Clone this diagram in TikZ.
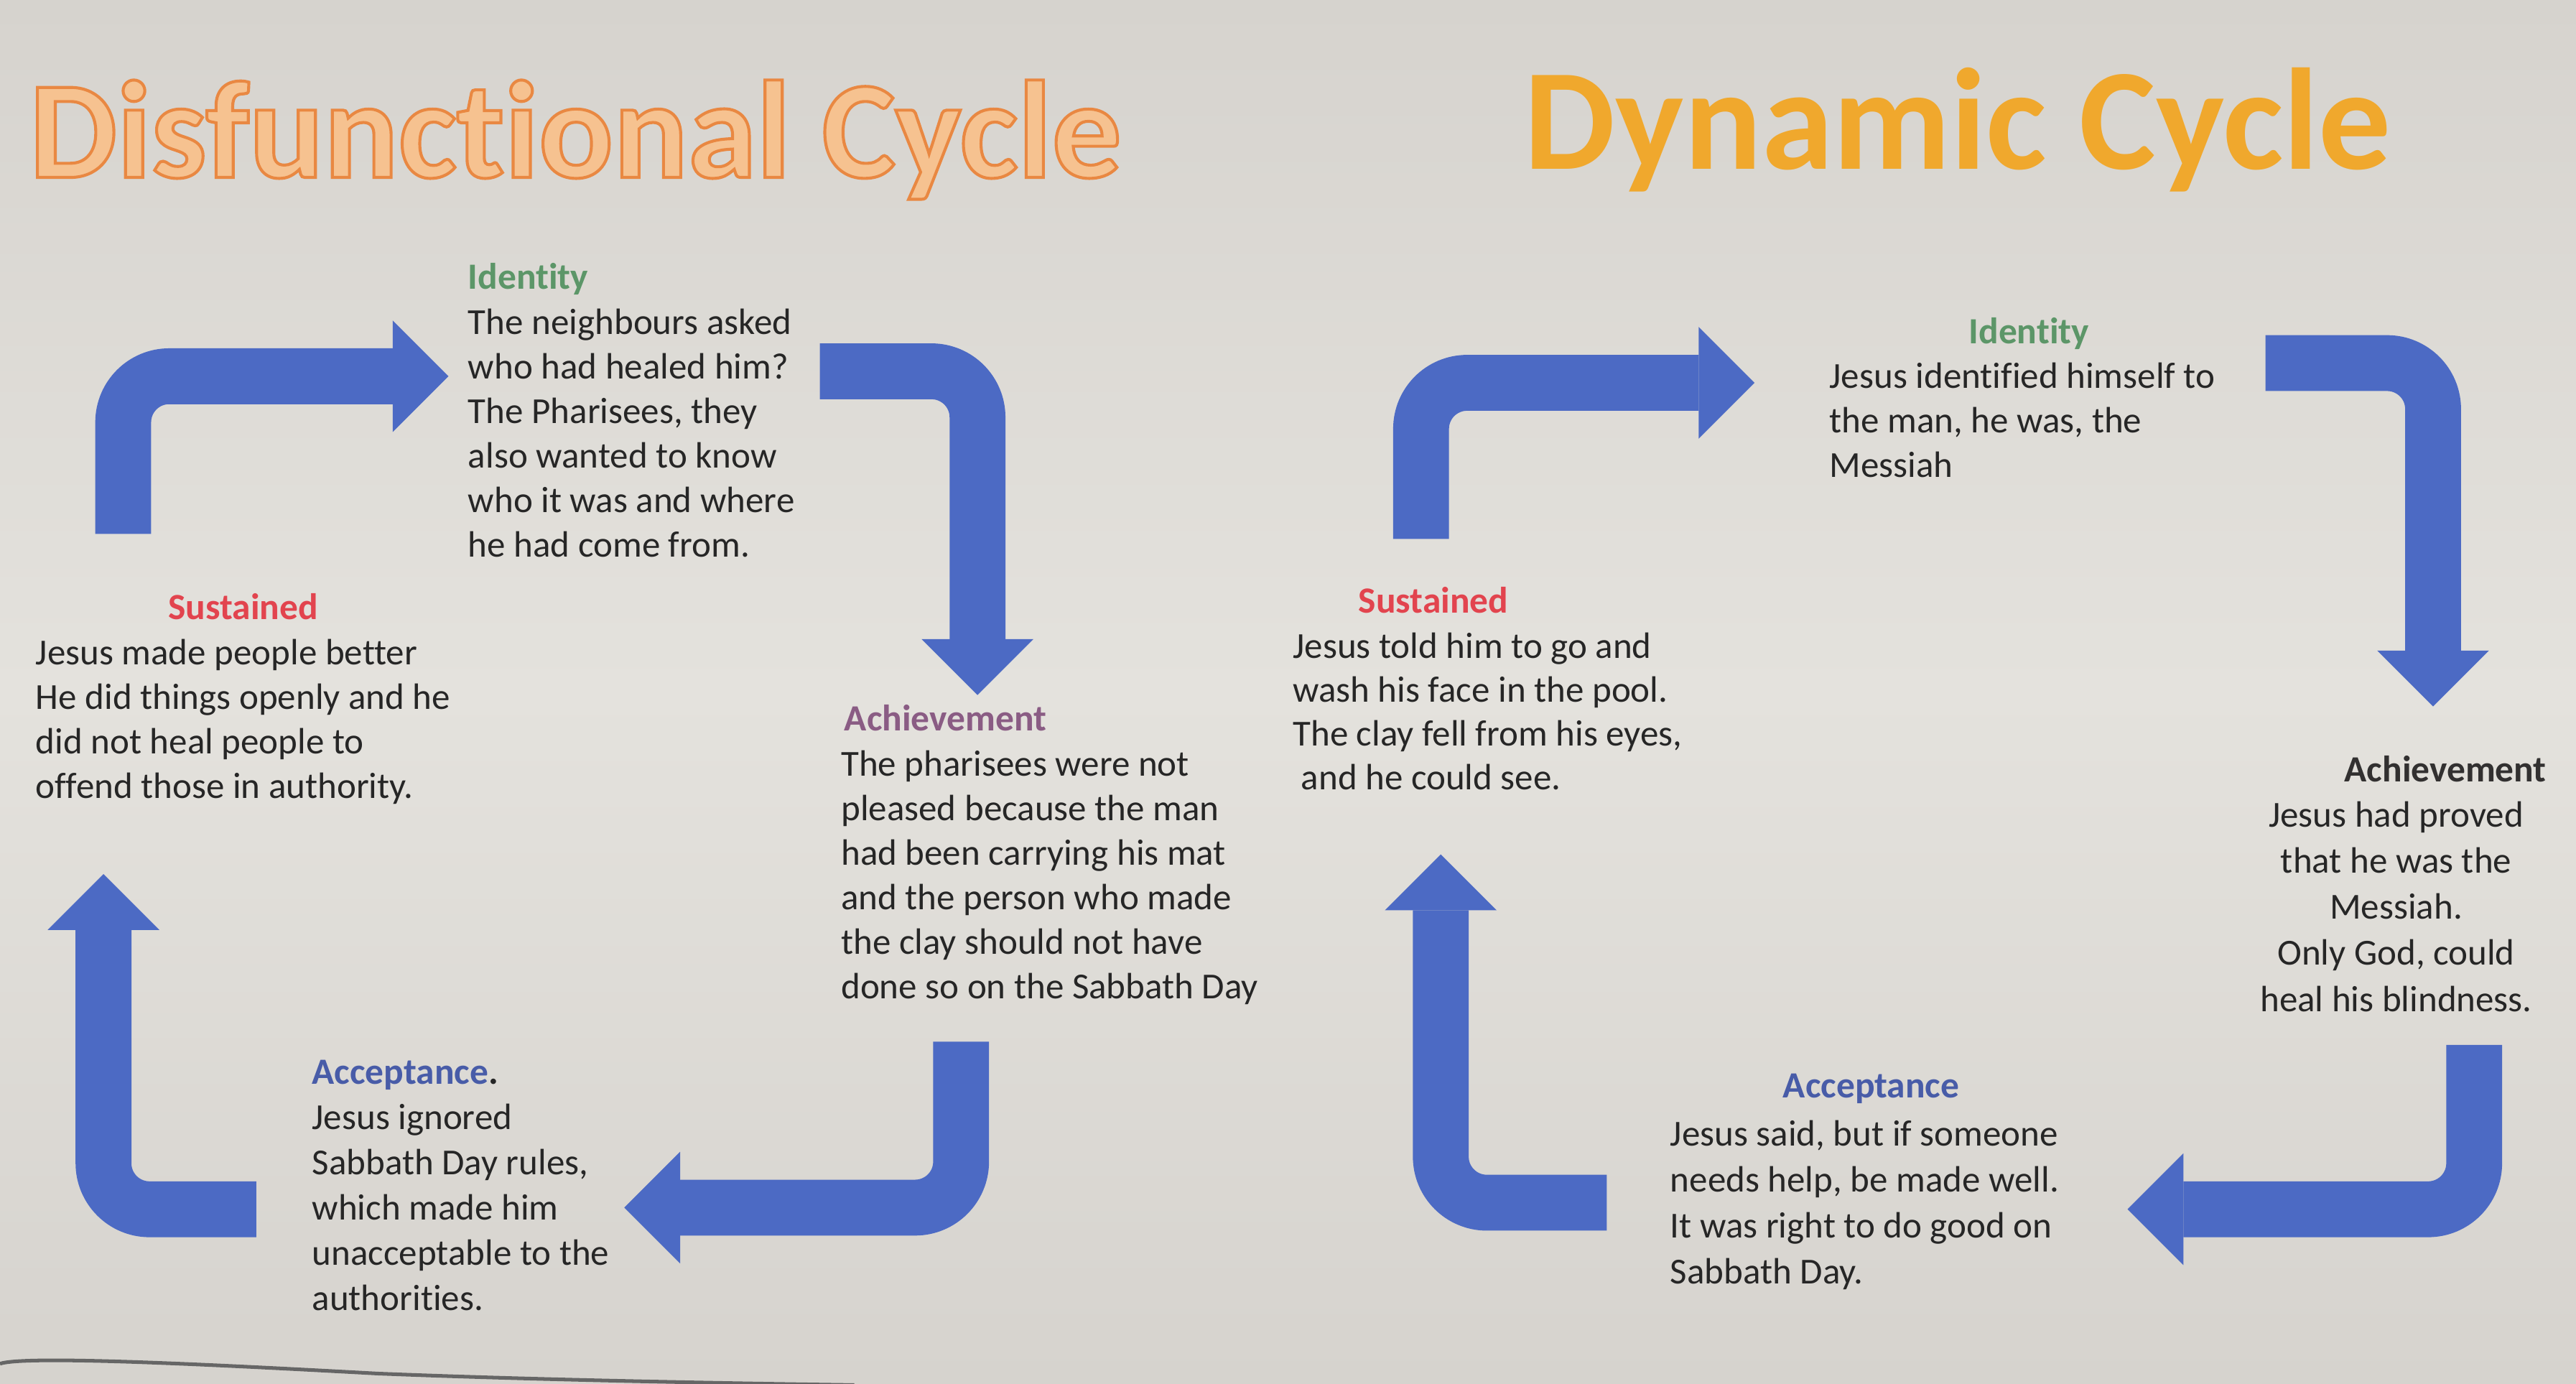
\documentclass[tikz,border=0pt]{standalone}
\usepackage{fontspec}
\setmainfont{Carlito}[Ligatures={NoCommon}]
\usetikzlibrary{positioning, arrows.meta}
\usepackage{xcolor}
\definecolor{paper}{RGB}{228,226,221}
\definecolor{paperdark}{RGB}{214,211,206}
\definecolor{arrowblue}{RGB}{76,106,196}
\definecolor{idgreen}{RGB}{92,150,104}
\definecolor{susred}{RGB}{226,68,78}
\definecolor{achpurple}{RGB}{138,92,132}
\definecolor{accblue}{RGB}{72,92,168}
\definecolor{achdark}{RGB}{50,48,48}
\definecolor{inktext}{RGB}{38,38,38}
\definecolor{titlepeach}{RGB}{246,194,144}
\definecolor{titleamber}{RGB}{240,168,45}

% outlined letters: fill + stroke text render mode
\newcommand{\outlinetxt}[1]{\special{pdf:literal direct 0.914 0.533 0.259 RG 1.8 w 2 Tr}#1\special{pdf:literal direct 0 Tr}}

\begin{document}
\begin{tikzpicture}[
    x=1pt, y=-1pt,
    every node/.style={inner sep=0pt, outer sep=0pt},
    titletxt/.style={font=\fontsize{86}{90}\selectfont\bfseries, anchor=base west},
    headtxt/.style={font=\fontsize{22.5}{27}\selectfont\bfseries, text height=15pt, text depth=5pt},
    bodytxt/.style={font=\fontsize{22.3}{27.1}\selectfont, text=inktext, align=left},
    cyclearr/.style={draw=arrowblue, line width=34pt, rounded corners=28pt,
        -{Triangle[length=34pt, width=68pt, line width=0pt]}},
]

% paper
\shade[top color=paperdark, bottom color=paperdark, middle color=paper] (0,0) rectangle (1568,842);
\useasboundingbox (0,0) rectangle (1568,842);
\draw[black!60, line width=2.2pt] (0,830) .. controls (15,825) and (120,830) .. (230,836) .. controls (330,840) and (450,842) .. (520,843);

% titles
\node[titletxt, text=titlepeach, font=\fontsize{84.5}{90}\selectfont\bfseries] (dtitle) at (18,108) {\outlinetxt{Disfunctional Cycle}};
\node[titletxt, text=titleamber, font=\fontsize{88}{90}\selectfont\bfseries] (ytitle) at (928,103) {Dynamic Cycle};

% disfunctional cycle
\node[headtxt, text=idgreen, anchor=west] (didh) at (285,171) {Identity};
\node[bodytxt, below right=7pt and 0pt of didh.south west] (didb) {The neighbours asked\\who had healed him?\\The Pharisees, they\\also wanted to know\\who it was and where\\he had come from.};

\node[headtxt, text=achpurple, anchor=west] (dach) at (514,440) {Achievement};
\node[bodytxt, below right=7pt and -2pt of dach.south west] (dacb) {The pharisees were not\\pleased because the man\\had been carrying his mat\\and the person who made\\the clay should not have\\done so on the Sabbath Day};

\node[headtxt, text=accblue, anchor=west] (dacc) at (190,655) {Acceptance\textcolor{inktext}{.}};
\node[bodytxt, below right=7pt and 0pt of dacc.south west, font=\fontsize{22.3}{27.5}\selectfont] (daccb) {Jesus ignored\\Sabbath Day rules,\\which made him\\unacceptable to the\\authorities.};

\node[headtxt, text=susred] (dsus) at (148,372) {Sustained};
\node[bodytxt, below=7pt of dsus] (dsusb) {Jesus made people better\\He did things openly and he\\did not heal people to\\offend those in authority.};

\coordinate (da1) at (75,325);   \coordinate (db1) at (273,229);
\coordinate (da2) at (499,226);  \coordinate (db2) at (595,423);
\coordinate (da3) at (585,634);  \coordinate (db3) at (380,735);
\coordinate (da4) at (156,736);  \coordinate (db4) at (63,532);
\draw[cyclearr] (da1) |- (db1);
\draw[cyclearr] (da2) -| (db2);
\draw[cyclearr] (da3) |- (db3);
\draw[cyclearr] (da4) -| (db4);

% dynamic cycle
\node[headtxt, text=idgreen] (yid) at (1235,204) {Identity};
\node[bodytxt, below=7pt of yid, xshift=-4pt] (yidb) {Jesus identified himself to\\the man, he was, the\\Messiah};

\node[headtxt, text=achdark, anchor=east] (yach) at (1550,471) {Achievement};
\node[bodytxt, align=center, below=7pt of yach, xshift=-30pt, font=\fontsize{22.3}{28}\selectfont] (yachb) {Jesus had proved\\that he was the\\Messiah.\\Only God, could\\heal his blindness.};

\node[headtxt, text=accblue] (yacc) at (1139,663) {Acceptance};
\node[bodytxt, below=9pt of yacc, xshift=-4pt, font=\fontsize{22.3}{28}\selectfont] (yaccb) {Jesus said, but if someone\\needs help, be made well.\\It was right to do good on\\Sabbath Day.};

\node[headtxt, text=susred, anchor=west] (ysus) at (827,368) {Sustained};
\node[bodytxt, below right=7pt and -40pt of ysus.south west, font=\fontsize{22.3}{26.7}\selectfont] (ysusb) {Jesus told him to go and\\wash his face in the pool.\\The clay fell from his eyes,\\\hspace*{5pt}and he could see.};

\coordinate (ya1) at (865,328);  \coordinate (yb1) at (1068,233);
\coordinate (ya2) at (1379,221); \coordinate (yb2) at (1481,430);
\coordinate (ya3) at (1506,636); \coordinate (yb3) at (1295,736);
\coordinate (ya4) at (978,732);  \coordinate (yb4) at (877,520);
\draw[cyclearr] (ya1) |- (yb1);
\draw[cyclearr] (ya2) -| (yb2);
\draw[cyclearr] (ya3) |- (yb3);
\draw[cyclearr] (ya4) -| (yb4);

\end{tikzpicture}
\end{document}
